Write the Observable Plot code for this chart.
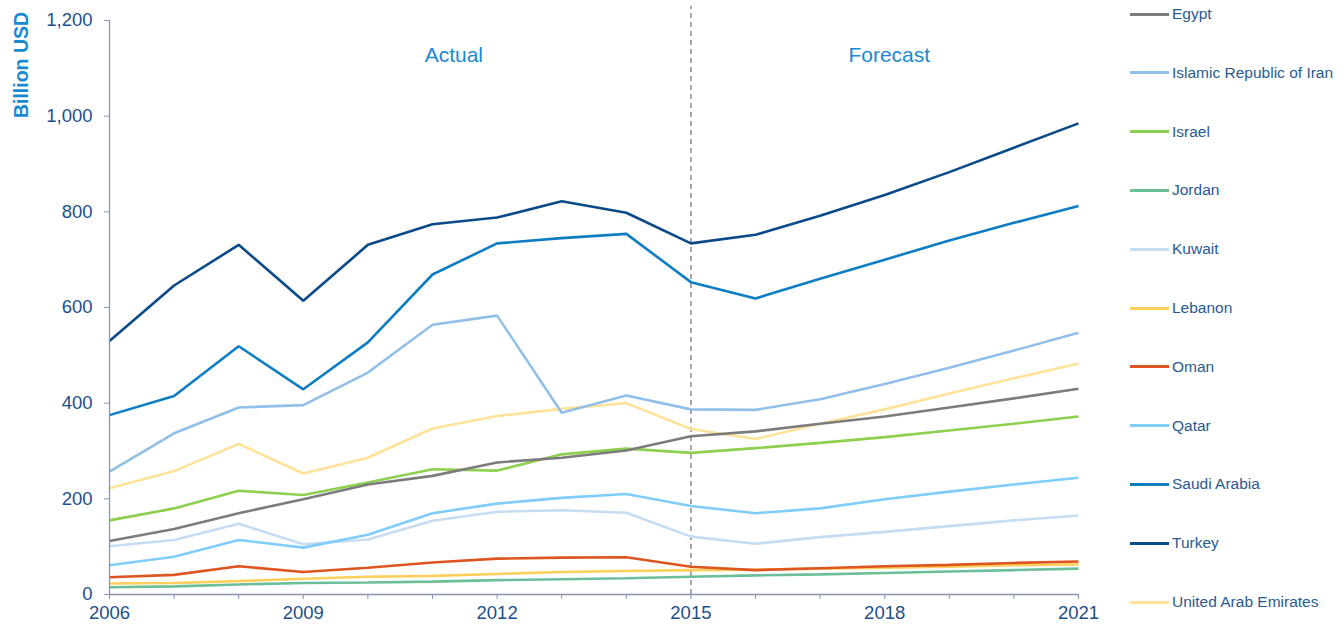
<!DOCTYPE html>
<html>
<head>
<meta charset="utf-8">
<script src="https://cdn.jsdelivr.net/npm/d3@7"></script>
<script src="https://cdn.jsdelivr.net/npm/@observablehq/plot@0.6"></script>
<style>
  html, body { margin: 0; padding: 0; background: #fff; }
  #wrap { position: relative; width: 1344px; height: 629px; font-family: "Liberation Sans", Arial, sans-serif; }
  #ylabel { position: absolute; left: 21px; top: 65px; transform: translate(-50%, -50%) rotate(-90deg); font-weight: bold; font-size: 19.5px; color: #1a8ad0; white-space: nowrap; }
  #legend { position: absolute; left: 1130px; top: 0; }
  .li { position: absolute; left: 0; display: flex; align-items: center; white-space: nowrap; transform: translateY(-50%); }
  .sw { width: 39px; height: 3px; margin-right: 3px; }
  .lt { font-size: 15.5px; color: #2a5a92; }
</style>
</head>
<body>
<div id="wrap">
  <div id="chart"></div>
  <div id="ylabel">Billion USD</div>
  <div id="legend"></div>
</div>
<script>
const years = d3.range(2006, 2022);
const countries = ["Egypt", "Islamic Republic of Iran", "Israel", "Jordan", "Kuwait", "Lebanon", "Oman", "Qatar", "Saudi Arabia", "Turkey", "United Arab Emirates"];
const colors = ["#7c7c7c", "#92bfe8", "#8dcf4f", "#6bbf98", "#c6dcf1", "#fecf5a", "#dd5520", "#80ccfa", "#0e7dc2", "#0b4a88", "#fde399"];

const egypt   = [112, 137, 170, 199, 230, 248, 276, 286, 301, 331, 341, 357, 372, 391, 410, 430];
const iran    = [257, 337, 391, 396, 464, 564, 583, 380, 416, 387, 386, 408, 440, 474, 510, 547];
const israel  = [155, 180, 217, 208, 234, 262, 259, 293, 305, 296, 306, 317, 329, 343, 357, 372];
const jordan  = [15, 17, 21, 24, 25, 27, 30, 32, 34, 37, 40, 42, 45, 48, 51, 54];
const kuwait  = [101, 114, 148, 105, 115, 154, 173, 176, 171, 121, 106, 120, 131, 143, 155, 165];
const lebanon = [23, 24, 28, 33, 37, 39, 43, 47, 49, 51, 52, 54, 56, 58, 61, 63];
const oman    = [36, 41, 59, 47, 56, 67, 75, 77, 78, 58, 51, 55, 59, 62, 66, 69];
const qatar   = [61, 79, 114, 98, 125, 170, 190, 202, 210, 185, 170, 180, 199, 215, 230, 244];
const saudi   = [375, 415, 519, 429, 527, 669, 734, 745, 754, 653, 619, 660, 700, 740, 777, 812];
const turkey  = [530, 646, 731, 614, 731, 774, 788, 822, 798, 734, 752, 792, 835, 883, 934, 985];
const uae     = [222, 258, 315, 253, 286, 347, 373, 388, 400, 346, 325, 357, 387, 420, 452, 483];

const series = [egypt, iran, israel, jordan, kuwait, lebanon, oman, qatar, saudi, turkey, uae];
const yTicks = [0, 200, 400, 600, 800, 1000, 1200];
const xLabelYears = [2006, 2009, 2012, 2015, 2018, 2021];
const forecastStart = 2015;
const annotations = [
  {year: 2011.33, value: 1127, label: "Actual"},
  {year: 2018.07, value: 1127, label: "Forecast"}
];

const rows = [];
countries.forEach((c, i) => series[i].forEach((v, j) => rows.push({country: c, year: years[j], value: v})));

const drawOrder = ["United Arab Emirates", "Kuwait", "Islamic Republic of Iran", "Qatar", "Lebanon", "Jordan", "Oman", "Israel", "Egypt", "Saudi Arabia", "Turkey"];

const axisColor = "#8a94b2";
const tickText = "#1d4f8c";

const plot = Plot.plot({
  width: 1344,
  height: 629,
  marginLeft: 109,
  marginRight: 266,
  marginTop: 20,
  marginBottom: 35,
  style: {fontFamily: "'Liberation Sans', Arial, sans-serif", background: "transparent", overflow: "visible"},
  x: {domain: [2006, 2021]},
  y: {domain: [0, 1200]},
  color: {domain: countries, range: colors},
  marks: [
    Plot.ruleX([forecastStart], {y1: 0, y2: 1230, stroke: "#8c8c8c", strokeWidth: 1.5, strokeDasharray: "5,4"}),
    ...drawOrder.map(c => Plot.line(rows.filter(r => r.country === c), {x: "year", y: "value", stroke: "country", strokeWidth: 2.6, strokeLinejoin: "miter", strokeLinecap: "butt"})),
    Plot.text(annotations, {x: "year", y: "value", text: "label", fill: "#1a8ad0", fontSize: 21}),
    Plot.axisY({ticks: yTicks, tickFormat: d3.format(","), tickSize: 5, tickPadding: 12, fontSize: 18.5, color: tickText, stroke: axisColor, label: null}),
    Plot.axisX({ticks: years, tickFormat: d => xLabelYears.includes(d) ? String(d) : "", tickSize: 5, tickPadding: 6, fontSize: 18.5, color: tickText, stroke: axisColor, label: null}),
    Plot.ruleY([0], {stroke: axisColor, strokeWidth: 1.3}),
    Plot.ruleX([2006], {stroke: axisColor, strokeWidth: 1.3})
  ]
});
plot.querySelectorAll("g[aria-label='y-axis tick'] path, g[aria-label='x-axis tick'] path").forEach(p => p.setAttribute("stroke", axisColor));
plot.querySelectorAll("g[aria-label='y-axis tick label'], g[aria-label='x-axis tick label']").forEach(g => g.setAttribute("fill", tickText));
document.getElementById("chart").appendChild(plot);

const legendTops = countries.map((c, i) => 14 + i * 58.8);
const legend = document.getElementById("legend");
countries.forEach((c, i) => {
  const d = document.createElement("div");
  d.className = "li";
  d.style.top = legendTops[i] + "px";
  d.innerHTML = `<div class="sw" style="background:${colors[i]}"></div><span class="lt">${c}</span>`;
  legend.appendChild(d);
});
</script>
</body>
</html>
